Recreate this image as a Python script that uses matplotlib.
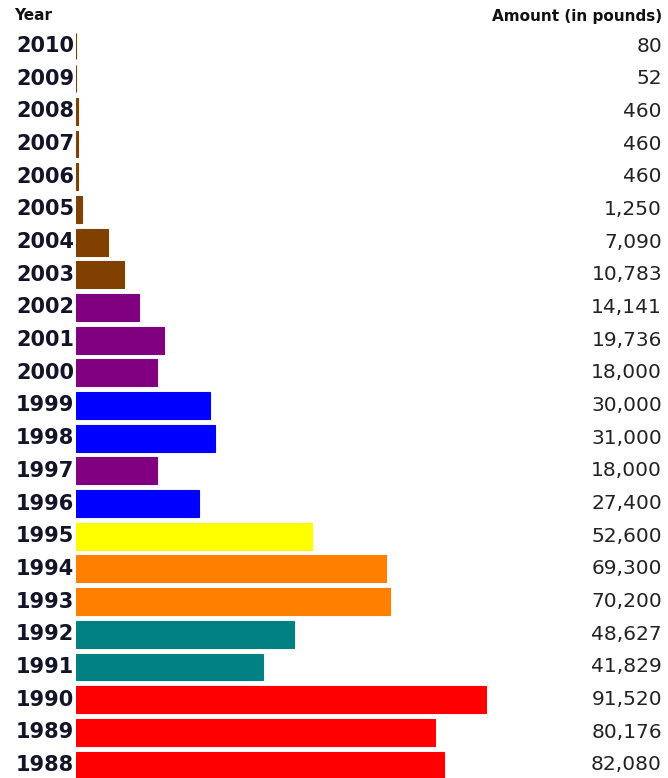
import numpy as np
from matplotlib import pyplot as plt

# Data (top row first)
years = ["2010", "2009", "2008", "2007", "2006", "2005", "2004", "2003",
         "2002", "2001", "2000", "1999", "1998", "1997", "1996", "1995",
         "1994", "1993", "1992", "1991", "1990", "1989", "1988"]
amounts = [80, 52, 460, 460, 460, 1250, 7090, 10783,
           14141, 19736, 18000, 30000, 31000, 18000, 27400, 52600,
           69300, 70200, 48627, 41829, 91520, 80176, 82080]
colors = ["#804000"] * 8 + ["#800080"] * 3 + ["#0000ff"] * 2 + ["#800080"] + \
         ["#0000ff"] + ["#ffff00"] + ["#ff8000"] * 2 + ["#008080"] * 2 + ["#ff0000"] * 3

W, H = 668, 778
fig = plt.figure(figsize=(W / 100, H / 100), dpi=100)

# axes placed in pixel terms: bars start at x=76, rows spaced ~32.7px
top_px = 29.7
ax = fig.add_axes([76 / W, 0, (662 - 76) / W, (H - top_px) / H])
pos = np.arange(len(years))
ax.barh(pos, amounts, height=0.82, color=colors, edgecolor=colors, linewidth=0.8)
ax.set_xlim(0, 586 / 0.00448)
ax.set_ylim((H - 46) / 32.68, -0.5)
ax.axis("off")

for i, (yr, amt) in enumerate(zip(years, amounts)):
    ax.text(-0.003, i, yr, transform=ax.get_yaxis_transform(), ha="right", va="center",
            fontsize=15, fontweight="bold", color="#141428")
    ax.text(1.0, i, f"{amt:,}", transform=ax.get_yaxis_transform(), ha="right", va="center",
            fontsize=14.5, color="#222222")

fig.text(14 / W, 1 - 16 / H, "Year", ha="left", va="center", fontsize=11,
         fontweight="bold", color="#111111")
fig.text(662 / W, 1 - 16 / H, "Amount (in pounds)", ha="right", va="center", fontsize=11,
         fontweight="bold", color="#111111")

fig.savefig("out.png", dpi=100)
